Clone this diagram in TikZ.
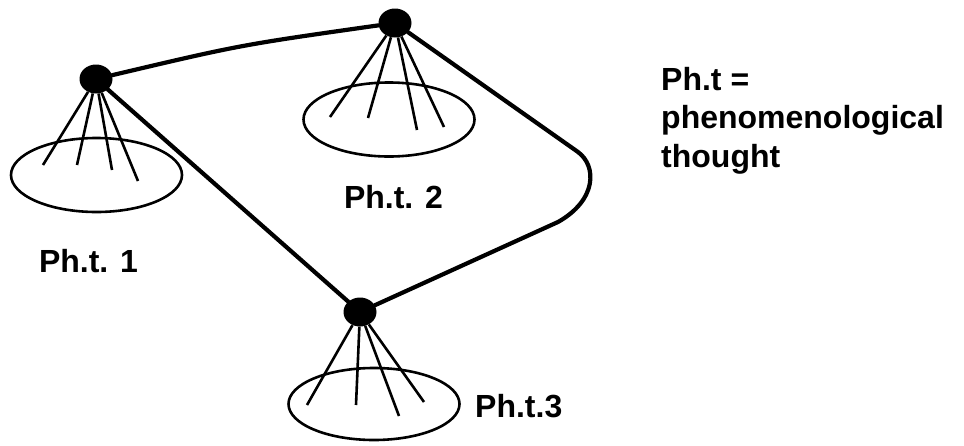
\documentclass[tikz,border=0pt]{standalone}
\usepackage{fontspec}
\setmainfont{Liberation Sans}
\usetikzlibrary{shapes.geometric}
\begin{document}
\begin{tikzpicture}[x=1pt,y=-1pt,
  dotn/.style={ellipse,fill=black,draw=none,minimum width=33pt,minimum height=29pt,inner sep=0pt},
  spoke/.style={line width=2.6pt},
  rim/.style={ellipse,draw,line width=2.6pt,minimum width=171pt,minimum height=74pt,inner sep=0pt},
  link/.style={line width=4.2pt,line cap=round,line join=round},
  lab/.style={font=\fontsize{32}{38.5}\selectfont\bfseries,inner sep=0pt}]
\useasboundingbox (0,0) rectangle (964,445);
% rims
\node[rim] (e1) at (96.5,175) {};
\node[rim] (e2) at (389,119.5) {};
\node[rim,minimum height=72pt] (e3) at (374,404) {};
% dots
\node[dotn] (n1) at (96,79) {};
\node[dotn] (n2) at (395,23) {};
\node[dotn] (n3) at (360,312) {};
% spokes
\coordinate (s11) at (43,165);
\coordinate (s12) at (77,165);
\coordinate (s13) at (112,170);
\coordinate (s14) at (138,181);
\coordinate (s21) at (330,117);
\coordinate (s22) at (368,118);
\coordinate (s23) at (417,130);
\coordinate (s24) at (444,127);
\coordinate (s31) at (307,405);
\coordinate (s32) at (356,405);
\coordinate (s33) at (399,416);
\coordinate (s34) at (424,402);
\foreach \i in {1,...,4} {
  \draw[spoke] (n1) -- (s1\i);
  \draw[spoke] (n2) -- (s2\i);
  \draw[spoke] (n3) -- (s3\i);
}
% links
\coordinate (c1) at (578,152);
\coordinate (c2) at (558,222);
\draw[link] (n1) .. controls (240,45) .. (n2);
\draw[link] (n1) -- (n3);
\draw[link] (n2) -- (c1) .. controls (597,166) and (597,200) .. (c2) -- (n3);
% labels
\node[lab,anchor=base] (l1) at (88.5,272) {Ph.t. 1};
\node[lab,anchor=base] (l2) at (393.5,208) {Ph.t. 2};
\node[lab,anchor=base west] (l3) at (475,417) {Ph.t.3};
\node[lab,anchor=base west,align=left] (legend) at (661,167) {Ph.t =\\phenomenological\\thought};
\end{tikzpicture}
\end{document}
